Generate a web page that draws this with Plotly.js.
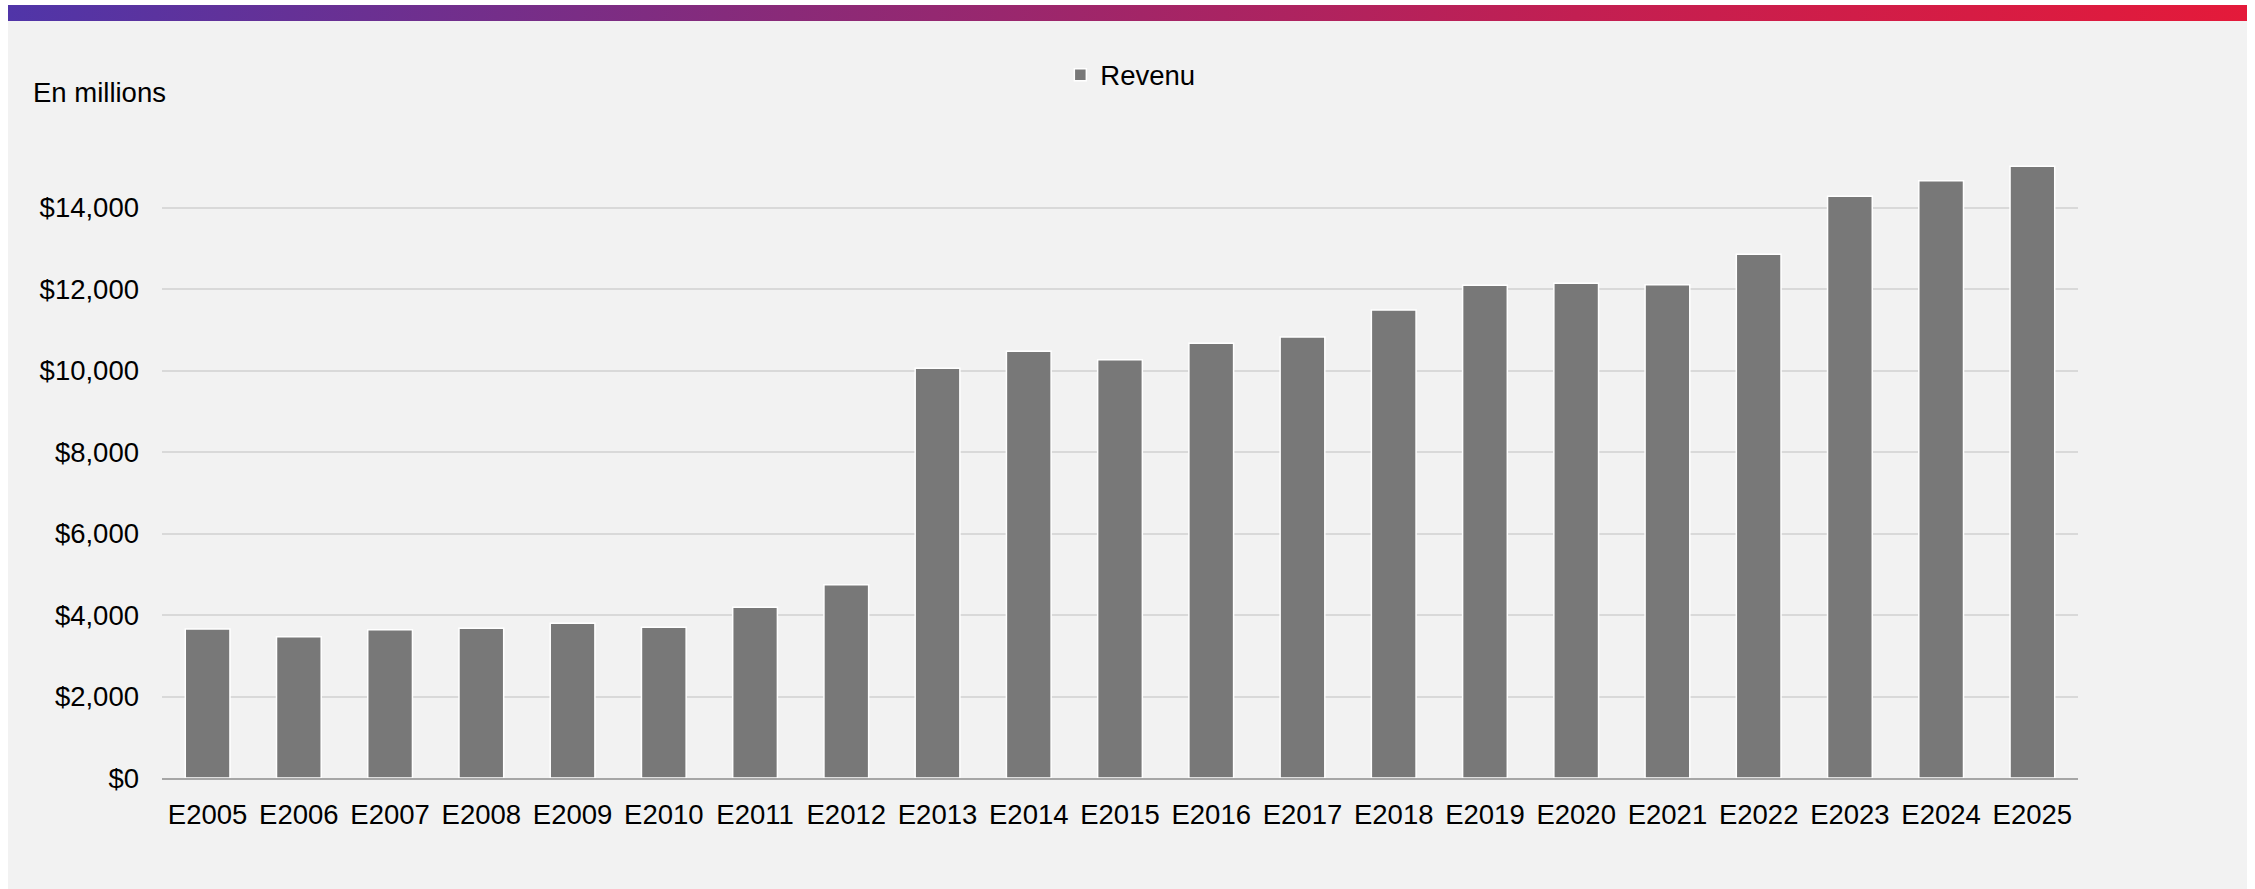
<!DOCTYPE html>
<html>
<head>
<meta charset="utf-8">
<script src="https://cdn.plot.ly/plotly-3.0.1.min.js"></script>
<style>
  html, body { margin: 0; padding: 0; background: #ffffff; width: 2255px; height: 889px; overflow: hidden; }
  #panel { position: absolute; left: 8px; top: 5px; width: 2239px; height: 884px; background: #f2f2f2; }
  #bar { position: absolute; left: 0; top: 0; width: 2239px; height: 16px;
         background: linear-gradient(to right, #5035a8 0%, #8a2a78 35%, #c21f52 70%, #e41a3a 100%); }
  #chart { position: absolute; left: 0; top: 16px; width: 2239px; height: 868px; }
</style>
</head>
<body>
<div id="panel"><div id="bar"></div><div id="chart"></div></div>
<script>
const categories = ["E2005","E2006","E2007","E2008","E2009","E2010","E2011","E2012","E2013","E2014","E2015",
                    "E2016","E2017","E2018","E2019","E2020","E2021","E2022","E2023","E2024","E2025"];
const revenu = [3657, 3468, 3640, 3673, 3796, 3698, 4189, 4744, 10054, 10471, 10266,
                10667, 10822, 11485, 12091, 12140, 12106, 12851, 14275, 14658, 15011];
const tickValues = [0, 2000, 4000, 6000, 8000, 10000, 12000, 14000];
const tickLabels = ["$0", "$2,000", "$4,000", "$6,000", "$8,000", "$10,000", "$12,000", "$14,000"];
const seriesName = "Revenu";
const unitLabel = "En millions";

const font = "Liberation Sans, Arial, sans-serif";
const fs = 27.5;

const trace = {
  type: "bar",
  x: categories,
  y: revenu,
  name: seriesName,
  width: 0.49,
  marker: { color: "#787878", line: { color: "#ffffff", width: 1.5 } },
  hoverinfo: "x+y"
};

const layout = {
  width: 2239,
  height: 868,
  paper_bgcolor: "#f2f2f2",
  plot_bgcolor: "#f2f2f2",
  margin: { l: 154, r: 169, t: 105, b: 111, pad: 0 },
  font: { family: font, size: fs, color: "#000000" },
  showlegend: true,
  legend: {
    orientation: "h",
    xref: "container", yref: "container",
    x: 0.470, xanchor: "left",
    y: 0.938, yanchor: "middle",
    bgcolor: "rgba(0,0,0,0)",
    font: { family: font, size: fs, color: "#000000" }
  },
  xaxis: {
    type: "category",
    showgrid: false,
    showline: true,
    linecolor: "#a6a6a6",
    linewidth: 2,
    ticks: "",
    ticklabelstandoff: 11,
    tickfont: { family: font, size: fs, color: "#000000" },
    fixedrange: true
  },
  yaxis: {
    range: [0, 16000],
    tickvals: tickValues,
    ticktext: tickLabels,
    showgrid: true,
    gridcolor: "#d9d9d9",
    gridwidth: 2,
    zeroline: false,
    showline: false,
    ticks: "",
    ticklabelstandoff: 22,
    tickfont: { family: font, size: fs, color: "#000000" },
    fixedrange: true
  },
  annotations: [{
    text: unitLabel,
    xref: "paper", yref: "paper",
    x: -0.0683, xanchor: "left",
    y: 1.0514, yanchor: "middle",
    showarrow: false,
    font: { family: font, size: fs, color: "#000000" }
  }],
  bargap: 0.51
};

Plotly.newPlot("chart", [trace], layout, { displayModeBar: false, staticPlot: true });
</script>
</body>
</html>
